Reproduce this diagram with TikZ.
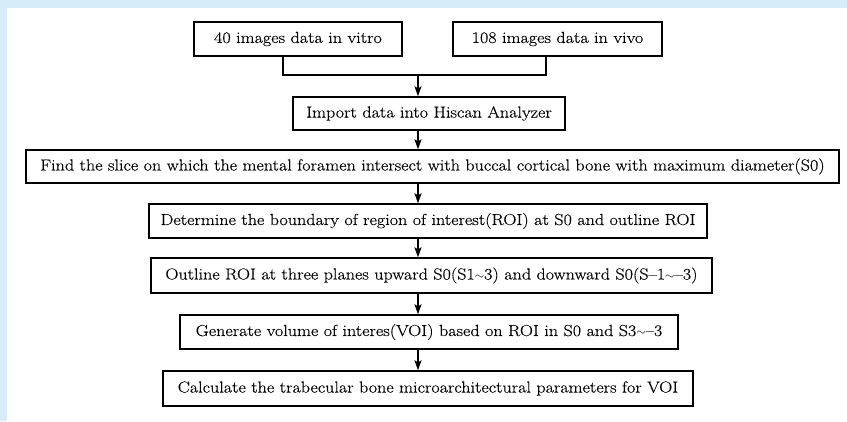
\documentclass[tikz,border=0pt]{standalone}
\usepackage{fontspec}
\setmainfont[FakeStretch=1.13,FakeBold=0.3]{Latin Modern Roman}
\usetikzlibrary{arrows.meta}
\definecolor{bgblue}{RGB}{214,236,249}
\newcommand{\smtil}{{\fontsize{12}{12}\selectfont$\sim$}}
\begin{document}
\begin{tikzpicture}[x=1pt,y=-1pt,
  box/.style={draw,rectangle,line width=1.4pt,inner sep=0pt,font=\fontsize{16}{19}\selectfont},
  conn/.style={line width=1.4pt},
  arr/.style={line width=1.4pt,-{Stealth[length=10pt,width=7pt,inset=2pt]}}]
\useasboundingbox (0,0) rectangle (847,421);
\fill[bgblue] (0,0) rectangle (847,421);
\fill[white] (7,8) rectangle (847,421);
\node[box,minimum width=208pt,minimum height=34pt] (b1) at (298,39) {40 images data in vitro};
\node[box,minimum width=209pt,minimum height=34pt] (b2) at (557.5,39) {108 images data in vivo};
\node[box,minimum width=272pt,minimum height=33pt] (b3) at (429,113.5) {Import data into Hiscan Analyzer};
\node[box,minimum width=813pt,minimum height=33pt] (b4) at (432.5,166.5) {Find the slice on which the mental foramen intersect with buccal cortical bone with maximum diameter(S0)};
\node[box,minimum width=558pt,minimum height=34pt] (b5) at (428,221) {Determine the boundary of region of interest(ROI) at S0 and outline ROI};
\node[box,minimum width=561pt,minimum height=35pt] (b6) at (431.5,275.5) {Outline ROI at three planes upward S0(S1\smtil3) and downward S0(S–1\smtil–3)};
\node[box,minimum width=498pt,minimum height=34pt] (b7) at (429,332) {Generate volume of interes(VOI) based on ROI in S0 and S3\smtil–3};
\node[box,minimum width=530pt,minimum height=35pt] (b8) at (428,388.5) {Calculate the trabecular bone microarchitectural parameters for VOI};
\coordinate (jl) at (283,75);
\coordinate (jr) at (546,75);
\coordinate (jm) at (418,75);
\draw[conn] (b1.south -| jl) -- (jl) -- (jr) -- (b2.south -| jr);
\draw[arr] (jm) -- (b3.north -| jm);
\draw[arr] (b3.south -| jm) -- (b4.north -| jm);
\draw[arr] (b4.south -| jm) -- (b5.north -| jm);
\draw[arr] (b5.south -| jm) -- (b6.north -| jm);
\draw[arr] (b6.south -| jm) -- (b7.north -| jm);
\draw[arr] (b7.south -| jm) -- (b8.north -| jm);
\end{tikzpicture}
\end{document}
